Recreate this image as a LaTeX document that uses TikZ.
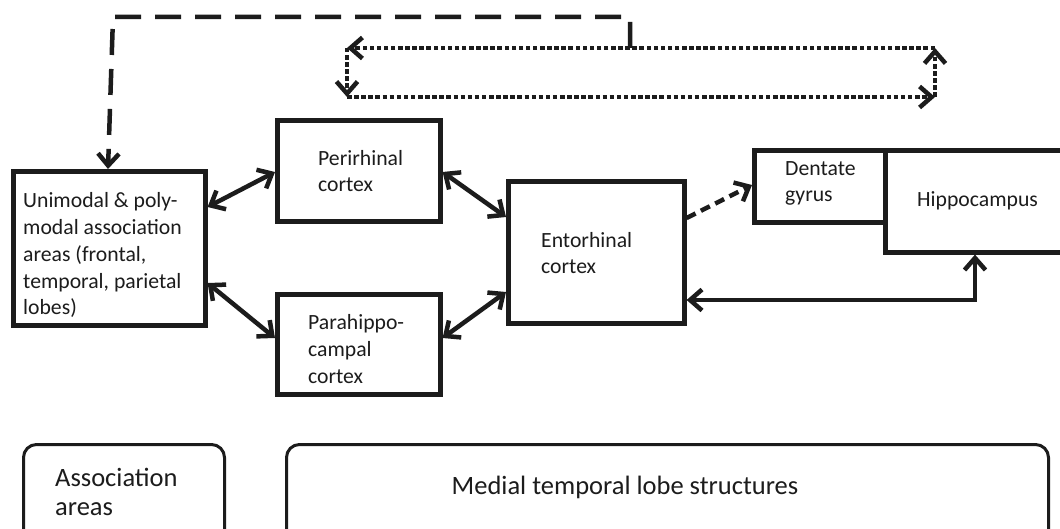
\documentclass[tikz,border=0pt]{standalone}
\usepackage{fontspec}
\setmainfont{Carlito}
\usetikzlibrary{arrows.meta}
\definecolor{ink}{RGB}{28,28,28}
\tikzset{
  box/.style={draw=ink, line width=4.6pt, inner sep=0pt, anchor=north west},
  tag/.style={draw=ink, line width=3pt, rounded corners=13pt, inner sep=0pt, anchor=north west},
  lbl/.style={text=ink, inner sep=0pt, anchor=base west, align=left,
              font={\fontsize{21.7pt}{26.8pt}\selectfont}},
  biglbl/.style={text=ink, inner sep=0pt, align=left,
              font={\fontsize{26.5pt}{29pt}\selectfont}},
  tip/.tip={Straight Barb[length=12pt,width=21pt,line width=4.5pt]},
  link/.style={draw=ink, line width=4.5pt, line join=miter},
  twoway/.style={link, tip-tip},
  oneway/.style={link, -tip},
  longdash/.style={link, dash pattern=on 26pt off 14pt},
  shortdash/.style={link, dash pattern=on 10pt off 6pt},
  dots/.style={link, dash pattern=on 4.5pt off 2.6pt},
}
\begin{document}
\begin{tikzpicture}[x=1pt,y=-1pt]
  \useasboundingbox (0,0) rectangle (1060,529);
  \fill[white] (0,0) rectangle (1060,529);
  \clip (0,0) rectangle (1060,529);

  % boxes
  \node[box, minimum width=192pt, minimum height=154pt] (uni)   at (11,169)  {};
  \node[box, minimum width=163pt, minimum height=101pt] (peri)  at (275,118) {};
  \node[box, minimum width=163pt, minimum height=100pt] (para)  at (275,292) {};
  \node[box, minimum width=176pt, minimum height=142pt] (ento)  at (506,179) {};
  \node[box, minimum width=131pt, minimum height=72pt]  (dent)  at (752,148) {};
  \node[box, minimum width=200pt, minimum height=102pt] (hippo) at (883,148) {};
  \node[tag, minimum width=201pt, minimum height=110pt] (assoc) at (22,443)  {};
  \node[tag, minimum width=762pt, minimum height=110pt] (mtl)   at (285,443) {};

  % labels (anchored on the baseline of their last line)
  \node[lbl] (uniT)   at (23,315)  {Unimodal \& poly-\\modal association\\areas (frontal,\\temporal, parietal\\lobes)};
  \node[lbl] (periT)  at (318,192) {Perirhinal\\cortex};
  \node[lbl] (paraT)  at (308,383) {Parahippo-\\campal\\cortex};
  \node[lbl] (entoT)  at (541,274) {Entorhinal\\cortex};
  \node[lbl] (dentT)  at (785,202) {Dentate\\gyrus};
  \node[lbl] (hippoT) at (917,207) {Hippocampus};
  \node[biglbl, anchor=base west] (assocT) at (55,515) {Association\\areas};
  \node[biglbl, anchor=base] (mtlT) at (625,494) {Medial temporal lobe structures};

  % cortical links
  \draw[twoway] (uni.east |- 0,207) -- (peri.west |- 0,172);
  \draw[twoway] (uni.east |- 0,283) -- (para.west |- 0,338);
  \draw[twoway] (peri.east |- 0,172) -- (ento.west |- 0,217);
  \draw[twoway] (para.east |- 0,338) -- (ento.west |- 0,292);
  \draw[shortdash, -tip] (ento.east |- 0,218) -- (dent.west |- 0,185);
  \draw[twoway] (hippo.south -| 975,0) |- (ento.east |- 0,300);

  % dotted loop
  \coordinate (d1) at (347,48);
  \coordinate (d2) at (347,97);
  \coordinate (d3) at (935,97);
  \coordinate (d4) at (935,48);
  \draw[dots, -tip] (d4) -- (d1);
  \draw[dots, -tip] (d1) -- (d2);
  \draw[dots, -tip] (d2) -- (d3);
  \draw[dots, -tip] (d3) -- (d4);

  % feedback to association areas
  \coordinate (fb) at (630,48);
  \coordinate (top) at (630,17);
  \coordinate (corner) at (113,17);
  \draw[longdash, -tip] (fb) -- (top) -- (corner) -- (uni.north -| 108,0);
\end{tikzpicture}
\end{document}
